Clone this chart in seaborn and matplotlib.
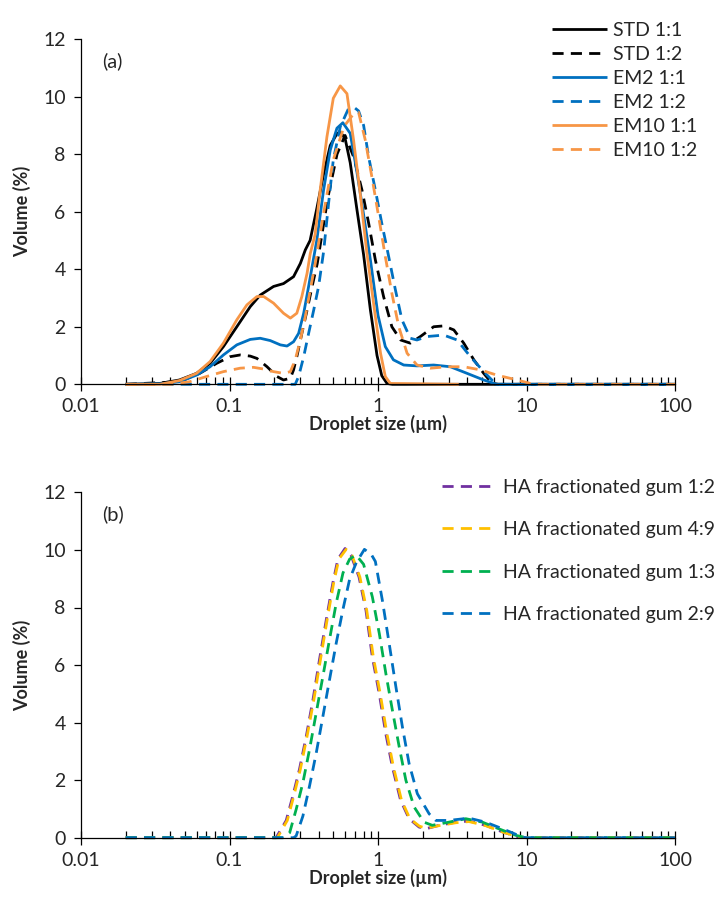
import matplotlib
matplotlib.use("Agg")
import matplotlib.pyplot as plt
import matplotlib.ticker as mticker
import numpy as np
import pandas as pd
import seaborn as sns

# ---------------- data : panel (a) ----------------
std11_x = [0.02, 0.034, 0.046, 0.06, 0.074, 0.091, 0.112, 0.138, 0.161, 0.198, 0.231, 0.27, 0.30, 0.324,
           0.349, 0.387, 0.43, 0.477, 0.53, 0.56, 0.60, 0.65, 0.72, 0.80, 0.888, 0.985, 1.06, 1.15, 1.25, 100]
std11_y = [0, 0.03, 0.15, 0.38, 0.73, 1.31, 2.0, 2.7, 3.1, 3.4, 3.5, 3.74, 4.2, 4.67,
           5.0, 6.1, 7.3, 8.3, 8.72, 8.75, 8.55, 7.7, 6.1, 4.5, 2.6, 1.0, 0.3, 0.03, 0, 0]

std12_x = [0.02, 0.046, 0.063, 0.082, 0.101, 0.118, 0.138, 0.153, 0.179, 0.209, 0.231, 0.257, 0.27, 0.284,
           0.307, 0.333, 0.36, 0.39, 0.46, 0.53, 0.60, 0.686, 0.78, 0.865, 0.96, 1.09, 1.24, 1.42, 1.65,
           1.93, 2.37, 2.77, 3.24, 3.78, 4.42, 5.15, 5.87, 6.5, 100]
std12_y = [0, 0.09, 0.38, 0.73, 0.96, 1.02, 0.98, 0.9, 0.61, 0.27, 0.15, 0.21, 0.5, 0.96,
           1.77, 2.58, 3.4, 4.2, 6.5, 8.0, 8.65, 7.9, 6.75, 5.6, 4.32, 3.05, 2.0, 1.54, 1.43,
           1.66, 2.0, 2.03, 1.89, 1.43, 0.85, 0.38, 0.03, 0, 0]

em2_11_x = [0.02, 0.035, 0.046, 0.06, 0.074, 0.091, 0.112, 0.138, 0.161, 0.188, 0.22, 0.244, 0.27, 0.292,
            0.316, 0.341, 0.36, 0.387, 0.43, 0.477, 0.529, 0.58, 0.65, 0.72, 0.80, 0.89, 1.0, 1.12, 1.27,
            1.49, 1.83, 2.37, 3.07, 3.98, 5.15, 6.3, 100]
em2_11_y = [0, 0.02, 0.09, 0.32, 0.61, 1.02, 1.37, 1.56, 1.6, 1.52, 1.37, 1.33, 1.48, 1.77,
            2.47, 3.4, 4.09, 5.0, 6.75, 8.14, 8.9, 9.09, 8.72, 7.4, 5.9, 4.3, 2.4, 1.31, 0.85,
            0.67, 0.64, 0.67, 0.61, 0.38, 0.15, 0, 0]

em2_12_x = [0.02, 0.277, 0.292, 0.316, 0.341, 0.369, 0.398, 0.43, 0.465, 0.50, 0.557, 0.634, 0.70, 0.74,
            0.80, 0.865, 0.96, 1.06, 1.18, 1.31, 1.45, 1.65, 1.83, 2.14, 2.77, 3.41, 4.19, 5.15, 6.0, 6.5, 100]
em2_12_y = [0, 0, 0.27, 0.96, 1.77, 2.58, 3.4, 4.6, 6.3, 7.8, 8.95, 9.59, 9.6, 9.5,
            9.0, 7.9, 6.75, 5.6, 4.44, 3.28, 2.24, 1.6, 1.54, 1.66, 1.71, 1.54, 0.96, 0.44, 0.09, 0, 0]

em10_11_x = [0.02, 0.034, 0.046, 0.06, 0.074, 0.091, 0.112, 0.131, 0.153, 0.17, 0.198, 0.231, 0.257, 0.284,
             0.307, 0.333, 0.35, 0.377, 0.408, 0.453, 0.50, 0.557, 0.618, 0.684, 0.76, 0.84, 0.96, 1.04,
             1.12, 1.21, 3.5]
em10_11_y = [0, 0, 0.13, 0.38, 0.79, 1.43, 2.24, 2.76, 3.05, 3.05, 2.82, 2.47, 2.3, 2.47,
             3.05, 3.86, 4.55, 5.2, 6.75, 8.6, 9.94, 10.37, 10.1, 8.5, 6.6, 4.6, 2.35, 1.08,
             0.27, 0.03, 0]

em10_12_x = [0.02, 0.04, 0.054, 0.070, 0.091, 0.118, 0.145, 0.17, 0.198, 0.231, 0.257, 0.277, 0.30, 0.324,
             0.35, 0.378, 0.43, 0.50, 0.59, 0.69, 0.74, 0.82, 0.91, 1.01, 1.12, 1.24, 1.38, 1.57, 1.83,
             2.25, 2.92, 3.78, 4.9, 6.3, 8.65, 10.6, 12, 100]
em10_12_y = [0, 0, 0.09, 0.27, 0.44, 0.56, 0.59, 0.53, 0.44, 0.38, 0.44, 0.85, 1.54, 2.35,
             3.28, 4.2, 5.94, 7.8, 8.96, 9.42, 9.45, 8.5, 7.2, 5.83, 4.44, 3.16, 2.0, 1.08, 0.67,
             0.56, 0.61, 0.61, 0.5, 0.32, 0.15, 0.03, 0, 0]

# ---------------- data : panel (b) ----------------
ha12_x = [0.02, 0.206, 0.241, 0.267, 0.296, 0.329, 0.365, 0.404, 0.449, 0.497, 0.537, 0.60, 0.66, 0.745,
          0.83, 0.916, 1.02, 1.13, 1.25, 1.42, 1.62, 1.89, 2.1, 2.58, 3.34, 4.1, 5.3, 6.9, 8.9, 10, 100]
ha12_y = [0, 0, 0.6, 1.45, 2.38, 3.53, 4.8, 6.2, 7.59, 8.86, 9.68, 10.05, 9.8, 9.06,
          7.9, 6.28, 5.0, 3.6, 2.46, 1.3, 0.66, 0.37, 0.31, 0.43, 0.54, 0.58, 0.43, 0.2, 0.02, 0, 0]

ha49_x = [0.02, 0.21, 0.245, 0.271, 0.30, 0.333, 0.37, 0.41, 0.455, 0.503, 0.545, 0.61, 0.67, 0.755,
          0.84, 0.93, 1.035, 1.15, 1.27, 1.44, 1.64, 1.9, 2.1, 2.58, 3.34, 4.1, 5.3, 6.9, 8.9, 10, 100]
ha49_y = [0, 0, 0.6, 1.45, 2.38, 3.53, 4.8, 6.2, 7.59, 8.86, 9.68, 10.02, 9.8, 9.06,
          7.9, 6.28, 5.0, 3.6, 2.46, 1.3, 0.66, 0.4, 0.33, 0.42, 0.52, 0.56, 0.42, 0.2, 0.02, 0, 0]

ha13_x = [0.02, 0.23, 0.254, 0.281, 0.312, 0.346, 0.384, 0.426, 0.472, 0.524, 0.581, 0.644, 0.71, 0.80,
          0.916, 1.02, 1.13, 1.25, 1.39, 1.54, 1.75, 2.04, 2.32, 3.0, 3.9, 5.05, 6.5, 8.5, 10, 100]
ha13_y = [0, 0, 0.17, 0.98, 1.91, 3.07, 4.35, 5.62, 6.9, 8.17, 9.2, 9.68, 9.83, 9.5,
          8.37, 7.1, 5.7, 4.43, 3.15, 2.0, 1.07, 0.54, 0.43, 0.54, 0.66, 0.54, 0.31, 0.08, 0, 0]

ha29_x = [0.02, 0.27, 0.281, 0.312, 0.346, 0.384, 0.426, 0.472, 0.524, 0.581, 0.644, 0.714, 0.81, 0.90,
          0.96, 1.07, 1.19, 1.32, 1.46, 1.62, 1.84, 2.21, 2.45, 3.0, 4.1, 5.3, 6.9, 9.4, 10, 100]
ha29_y = [0, 0, 0.06, 0.75, 1.8, 2.95, 4.23, 5.5, 6.78, 7.94, 8.98, 9.56, 10.02, 9.85,
          9.6, 8.25, 6.74, 5.24, 3.85, 2.57, 1.53, 0.83, 0.6, 0.6, 0.68, 0.54, 0.31, 0.02, 0, 0]

labels_a = ["STD 1:1", "STD 1:2", "EM2 1:1", "EM2 1:2", "EM10 1:1", "EM10 1:2"]
labels_b = ["HA fractionated gum 1:2", "HA fractionated gum 4:9",
            "HA fractionated gum 1:3", "HA fractionated gum 2:9"]
xtick_vals = [0.01, 0.1, 1, 10, 100]
xtick_labels = ["0.01", "0.1", "1", "10", "100"]
ytick_vals = [0, 2, 4, 6, 8, 10, 12]

# ---------------- styling ----------------
sns.set_style("white")
plt.rcParams["font.family"] = ["Lato", "DejaVu Sans"]
FS = 14
TXT = "#262626"

series_a = [
    (std11_x, std11_y, labels_a[0], "#000000", "solid"),
    (std12_x, std12_y, labels_a[1], "#000000", "dashed"),
    (em2_11_x, em2_11_y, labels_a[2], "#0070C0", "solid"),
    (em2_12_x, em2_12_y, labels_a[3], "#0070C0", "dashed"),
    (em10_11_x, em10_11_y, labels_a[4], "#F79646", "solid"),
    (em10_12_x, em10_12_y, labels_a[5], "#F79646", "dashed"),
]
series_b = [
    (ha12_x, ha12_y, labels_b[0], "#7030A0", "dashed"),
    (ha49_x, ha49_y, labels_b[1], "#FFC000", "dashed"),
    (ha13_x, ha13_y, labels_b[2], "#00B050", "dashed"),
    (ha29_x, ha29_y, labels_b[3], "#0070C0", "dashed"),
]

fig = plt.figure(figsize=(7.15, 9.09), dpi=100)
left = 81 / 715
width = (675 - 81) / 715
h = 345.3 / 909
ax_a = fig.add_axes([left, 1 - 384.3 / 909, width, h])
ax_b = fig.add_axes([left, 1 - 837.7 / 909, width, h])

LW = 2.0
DASH = (4, 2.6)


def draw(ax, series):
    for xs, ys, lab, col, ls in series:
        df = pd.DataFrame({"size": xs, "vol": ys})
        sns.lineplot(data=df, x="size", y="vol", ax=ax, color=col, label=lab,
                     estimator=None, sort=False, linewidth=LW)
        line = ax.get_lines()[-1]
        if ls == "dashed":
            line.set_dashes(DASH)
        line.set_clip_on(False)
        line.set_solid_capstyle("butt")
        line.set_dash_capstyle("butt")


def style(ax, tag):
    ax.set_xscale("log")
    ax.set_xlim(0.01, 100)
    ax.set_ylim(0, 12)
    ax.set_xticks(xtick_vals)
    ax.set_xticklabels(xtick_labels)
    ax.xaxis.set_minor_locator(mticker.LogLocator(base=10, subs=np.arange(2, 10)))
    ax.xaxis.set_minor_formatter(mticker.NullFormatter())
    ax.set_yticks(ytick_vals)
    ax.set_yticklabels([str(v) for v in ytick_vals])
    for s in ["top", "right"]:
        ax.spines[s].set_visible(False)
    for s in ["left", "bottom"]:
        ax.spines[s].set_color("#000000")
        ax.spines[s].set_linewidth(0.9)
    ax.tick_params(axis="x", which="major", direction="inout", length=10, width=0.9,
                   colors="#000000", labelcolor=TXT, labelsize=FS, pad=5, bottom=True)
    ax.tick_params(axis="x", which="minor", direction="in", length=5, width=0.9,
                   colors="#000000", bottom=True)
    ax.tick_params(axis="y", which="major", direction="out", length=5, width=0.9,
                   colors="#000000", labelcolor=TXT, labelsize=FS, pad=6, left=True)
    ax.set_xlabel("Droplet size (µm)", fontsize=13, fontweight="bold", color=TXT, labelpad=0)
    ax.set_ylabel("Volume (%)", fontsize=13, fontweight="bold", color=TXT, labelpad=9)
    ax.text(0.035, 0.937, tag, transform=ax.transAxes, fontsize=14.5, color=TXT, va="center")
    ax.grid(False)


draw(ax_a, series_a)
draw(ax_b, series_b)
style(ax_a, "(a)")
style(ax_b, "(b)")

leg_a = ax_a.legend(loc="upper left", bbox_to_anchor=(552 / 715, 1 - 22 / 909),
                    bbox_transform=fig.transFigure, frameon=False, fontsize=FS,
                    handlelength=2.85, handletextpad=0.3, labelspacing=0.36, borderpad=0,
                    borderaxespad=0)
leg_b = ax_b.legend(loc="upper left", bbox_to_anchor=(442 / 715, 1 - 479 / 909),
                    bbox_transform=fig.transFigure, frameon=False, fontsize=FS,
                    handlelength=2.85, handletextpad=0.3, labelspacing=1.3, borderpad=0,
                    borderaxespad=0)
for leg in (leg_a, leg_b):
    for t in leg.get_texts():
        t.set_color(TXT)

fig.savefig("out.png", dpi=100)
